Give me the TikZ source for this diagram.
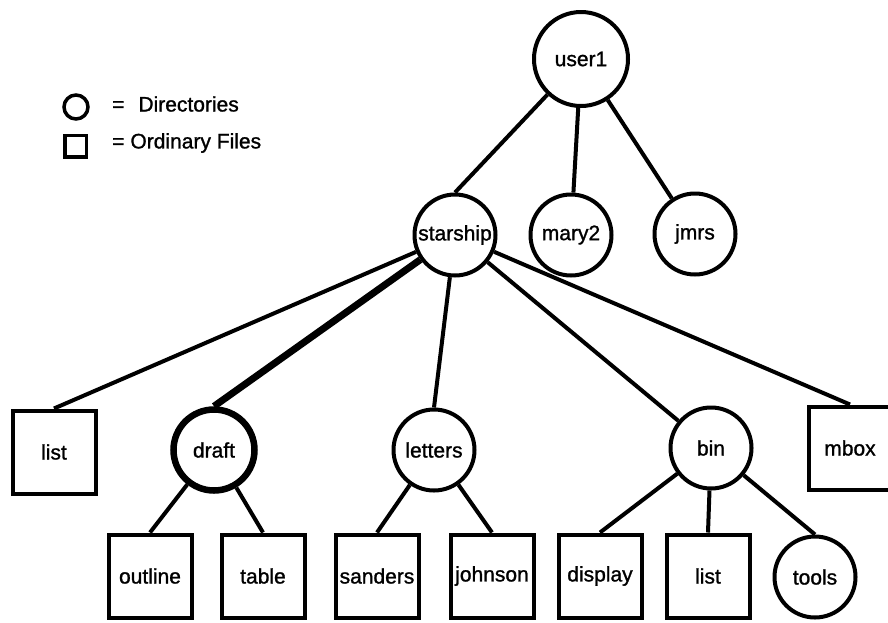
\documentclass[tikz,border=0pt]{standalone}
\usepackage{fontspec}
\setmainfont{Liberation Sans}
\newfontfamily\heavysans{Liberation Sans}[FakeBold=1.2]
\begin{document}
\begin{tikzpicture}[x=1pt,y=-1pt,
  namefont/.style={font=\heavysans\fontsize{21}{24}\selectfont},
  dir/.style={circle,draw,line width=4pt,minimum size=81pt,inner sep=0pt,namefont},
  file/.style={rectangle,draw,line width=4pt,minimum size=83pt,inner sep=0pt,namefont},
  link/.style={line width=4pt}]
\useasboundingbox (0,0) rectangle (888,622);

% legend
\node[circle,draw,line width=3.5pt,minimum size=24pt,inner sep=0pt] (legdir) at (76,107) {};
\node[rectangle,draw,line width=3.5pt,minimum size=21.5pt,inner sep=0pt] (legfile) at (75.5,146) {};
\node[anchor=west,inner sep=0pt,namefont] (legdirtxt) at (112,104) {=\hspace{14pt}Directories};
\node[anchor=west,inner sep=0pt,namefont] (legfiletxt) at (112,143) {=\hspace{6pt}Ordinary Files};

% directories and files
\node[dir,minimum size=94pt] (user1) at (581,59) {user1};
\node[dir] (starship) at (455,235) {starship};
\node[dir] (mary2) at (571,235) {mary2};
\node[dir] (jmrs) at (695,234) {jmrs};

\node[file] (list) at (54,452) {list};
\node[dir,line width=6.5pt] (draft) at (214,450) {draft};
\node[dir] (letters) at (434,450) {letters};
\node[dir] (bin) at (711,448) {bin};
\node[file] (mbox) at (850,448) {mbox};

\node[file] (outline) at (150,576) {outline};
\node[file] (table) at (263,576) {table};
\node[file] (sanders) at (377,576) {sanders};
\node[file] (johnson) at (492,576) {johnson};
\node[file] (display) at (600,576) {display};
\node[file] (list2) at (708,576) {list};
\node[dir] (tools) at (815,577) {tools};

% tree edges
\draw[link] (user1) -- (starship.north);
\draw[link] (user1) -- (mary2);
\draw[link] (user1) -- (jmrs);

\draw[link] (starship) -- (list.north);
\draw[link,line width=7pt] (starship) -- (draft.north);
\draw[link] (starship) -- (letters.north);
\draw[link] (starship) -- (bin);
\draw[link] (starship) -- (mbox.north);

\draw[link] (draft) -- (outline.north);
\draw[link] (draft) -- (table.north);
\draw[link] (letters) -- (sanders.north);
\draw[link] (letters) -- (johnson.north);
\draw[link] (bin) -- (display.north);
\draw[link] (bin) -- (list2.north);
\draw[link] (bin) -- (tools.north);
\end{tikzpicture}
\end{document}
